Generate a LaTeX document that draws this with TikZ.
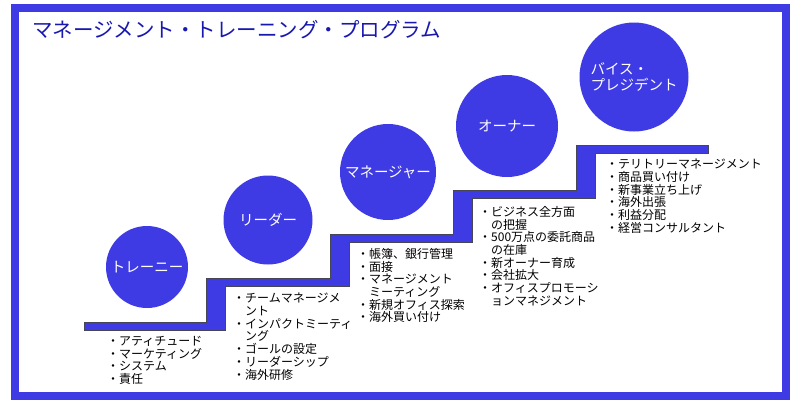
\documentclass[tikz,border=0pt]{standalone}
\usepackage{fontspec}
\setmainfont{Noto Sans CJK JP}

\definecolor{stepblue}{RGB}{62,58,228}
\definecolor{titleblue}{RGB}{24,24,176}
\definecolor{edgegray}{RGB}{70,70,84}

\begin{document}
\begin{tikzpicture}[x=1pt,y=-1pt]

  % Styles for the rank discs and the lists of duties
  \tikzset{
    rankdisc/.style={circle, fill=stepblue, text=white, inner sep=0pt,
      minimum size=#1, align=left, font=\fontsize{14.5}{16}\selectfont},
    duties/.style={anchor=north west, align=left, inner sep=0pt,
      font=\fontsize{12}{12.7}\selectfont}
  }

  % Fix the size of the picture
  \useasboundingbox (0,0) rectangle (800,408);

  % Draw the frame
  \draw[stepblue, line width=8pt] (15,8) rectangle (786,396);

  % Add the title
  \node[anchor=west, inner sep=0pt, text=titleblue,
    font=\fontsize{20.5}{22}\selectfont] (title) at (32,30)
    {マネージメント・トレーニング・プログラム};

  % Draw the stairs
  % outer edge, from the lowest step up to the top
  \fill[stepblue, draw=edgegray, line width=0.8pt]
    (84,322) -- (206,322) -- (206,278) -- (330,278) -- (330,234)
    -- (453,234) -- (453,190) -- (576,190) -- (576,145) -- (708,145)
    % inner edge, back down again
    -- (708,153) -- (595,153) -- (595,198) -- (472,198) -- (472,242)
    -- (349,242) -- (349,286) -- (225,286) -- (225,330) -- (84,330) -- cycle;

  % Draw the discs for the ranks
  \node[rankdisc=82pt] (trainee) at (147,267) {トレーニー};
  \node[rankdisc=89pt] (leader) at (268,220) {リーダー};
  \node[rankdisc=96pt] (manager) at (388,172) {マネージャー};
  \node[rankdisc=102pt] (owner) at (507,126) {オーナー};
  \node[rankdisc=109pt] (vice) at (634,77) {バイス・\\プレジデント};

  % Add the duties below each step
  \node[duties] (traineeduties) at (107,336)
    {・アティチュード\\・マーケティング\\・システム\\・責任};
  \node[duties] (leaderduties) at (233,293)
    {・チームマネージメ\\\phantom{・}ント\\・インパクトミーティ\\\phantom{・}ング\\・ゴールの設定\\・リーダーシップ\\・海外研修};
  \node[duties] (managerduties) at (357,248)
    {・帳簿、銀行管理\\・面接\\・マネージメント\\\phantom{・}ミーティング\\・新規オフィス探索\\・海外買い付け};
  \node[duties] (ownerduties) at (479,206)
    {・ビジネス全方面\\\phantom{・}の把握\\・500万点の委託商品\\\phantom{・}の在庫\\・新オーナー育成\\・会社拡大\\・オフィスプロモーシ\\\phantom{・}ョンマネジメント};
  \node[duties] (viceduties) at (606,159)
    {・テリトリーマネージメント\\・商品買い付け\\・新事業立ち上げ\\・海外出張\\・利益分配\\・経営コンサルタント};

\end{tikzpicture}
\end{document}
